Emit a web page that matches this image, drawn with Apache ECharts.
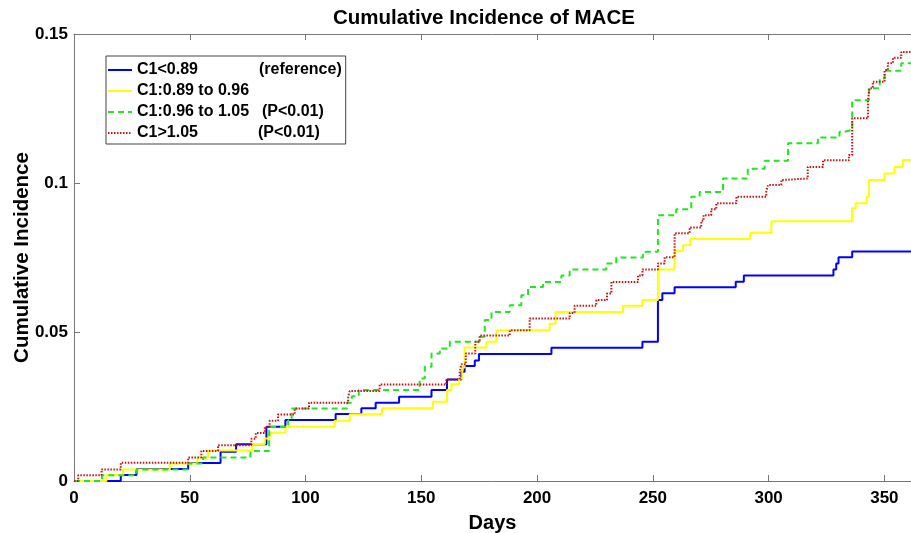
<!DOCTYPE html>
<html>
<head>
<meta charset="utf-8">
<script src="https://cdn.jsdelivr.net/npm/echarts@6/dist/echarts.min.js"></script>
<style>html,body{margin:0;padding:0;background:#fff}#chart{width:911px;height:533px}</style>
</head>
<body>
<div id="chart"></div>
<script>
// ---- data (days at which each step occurs, cumulative incidence after the step) ----
const seriesNames = ["C1<0.89", "C1:0.89 to 0.96", "C1:0.96 to 1.05", "C1>1.05"];
const legendNotes = ["(reference)", "", "(P<0.01)", "(P<0.01)"];
const xTicks = [0, 50, 100, 150, 200, 250, 300, 350];
const yTicks = [0, 0.05, 0.1, 0.15];

const blueDays = [0, 20.2, 27, 49.3, 63.3, 70, 83.1, 91.3, 113, 124.1, 130.3, 140.4, 154.4, 161.1, 167.3, 168.7, 173.1, 174.9, 206.2, 245.5, 252.2, 254.1, 259.4, 285.8, 289.3, 328, 329.2, 330.2, 336.1, 361.5];
const blueVals = [0, 0.002, 0.004, 0.006, 0.0098, 0.0123, 0.0182, 0.0205, 0.0225, 0.0244, 0.0263, 0.0283, 0.0305, 0.0341, 0.0367, 0.0386, 0.0404, 0.0426, 0.0447, 0.0467, 0.0607, 0.063, 0.065, 0.0669, 0.069, 0.071, 0.073, 0.0751, 0.077, 0.077];

const yellowDays = [0, 14, 21.2, 41.4, 53.3, 57.9, 77, 82.4, 84.5, 91.3, 112.6, 119.1, 133, 155, 161.1, 163, 166.3, 167.7, 168.7, 178.1, 182.4, 205.4, 208, 237.1, 245.5, 252.2, 259.4, 263, 266.2, 292.1, 301.2, 336, 337.6, 342.4, 343.3, 350.1, 354.4, 358, 361.5];
const yellowVals = [0, 0.002, 0.0039, 0.0059, 0.0079, 0.0102, 0.0124, 0.0143, 0.0162, 0.0182, 0.0202, 0.0224, 0.0244, 0.0266, 0.0305, 0.0325, 0.0344, 0.0381, 0.0448, 0.0467, 0.0506, 0.0528, 0.0567, 0.0588, 0.0607, 0.071, 0.0772, 0.0791, 0.0812, 0.0833, 0.0872, 0.0915, 0.0932, 0.0954, 0.101, 0.1032, 0.1054, 0.1077, 0.1077];

const greenDays = [0, 12.1, 27, 49.3, 55.7, 76.2, 84.3, 92.5, 94, 118, 120, 123, 149.3, 151.5, 154.4, 158, 162.3, 175.2, 177.4, 180.3, 188.2, 193.2, 196.1, 202.6, 210.5, 214.1, 229.9, 234.2, 245.7, 252.2, 260.1, 266.6, 270.2, 280.3, 291, 298.3, 308.4, 321.3, 330.6, 332.8, 336.1, 343.3, 348, 350.1, 357.3, 361.5];
const greenVals = [0, 0.0019, 0.0039, 0.0059, 0.0079, 0.0101, 0.0181, 0.0204, 0.0243, 0.0263, 0.0284, 0.0305, 0.0344, 0.0383, 0.0428, 0.0445, 0.0467, 0.0484, 0.054, 0.0567, 0.059, 0.0623, 0.0651, 0.0668, 0.069, 0.071, 0.073, 0.075, 0.0769, 0.0892, 0.0912, 0.0954, 0.097, 0.1015, 0.1048, 0.1075, 0.1133, 0.1153, 0.1172, 0.1178, 0.1278, 0.1318, 0.1351, 0.1377, 0.1402, 0.1402];

const redDays = [0, 1.8, 11.9, 20.2, 49.3, 55, 62.2, 76.6, 78.5, 82.4, 84.5, 88.1, 95.3, 101.5, 118.4, 119.1, 132, 160.8, 166.6, 167.3, 169.2, 173.3, 175.2, 188.2, 196.8, 214.1, 216.2, 225.6, 230.2, 232.1, 243.6, 245.5, 252.2, 255.1, 259.4, 265.9, 270.9, 271.9, 275.2, 277.4, 286.1, 299, 299.7, 305.5, 306.2, 316.9, 323.5, 334.7, 336.1, 342.9, 343.6, 345, 350.1, 351.5, 353.7, 357.3, 361.5];
const redVals = [0, 0.0019, 0.0039, 0.0061, 0.0079, 0.0101, 0.012, 0.0142, 0.0161, 0.0181, 0.0202, 0.0223, 0.0243, 0.0263, 0.0284, 0.0302, 0.0324, 0.0341, 0.0366, 0.0392, 0.0428, 0.0467, 0.0488, 0.0506, 0.0545, 0.0564, 0.0588, 0.0607, 0.0629, 0.0668, 0.069, 0.071, 0.073, 0.0751, 0.0831, 0.0851, 0.0873, 0.0892, 0.0912, 0.0932, 0.0954, 0.0972, 0.0993, 0.101, 0.1015, 0.1054, 0.1076, 0.1094, 0.1217, 0.1278, 0.1318, 0.134, 0.1379, 0.1402, 0.142, 0.144, 0.144];

// ---- build ----
const zip = (a, b) => a.map((d, i) => [d, b[i]]);
const FONT = "'Liberation Sans', Arial, sans-serif";
const noteWidths = [122, 122, 125, 121];
const rich = {};
noteWidths.forEach((w, i) => { rich['n' + i] = { width: w, fontWeight: 'bold', fontSize: 16, fontFamily: FONT, color: '#000' }; });
rich.s = { fontWeight: 'bold', fontSize: 16, fontFamily: FONT, color: '#000' };

const styles = [
  { color: '#0000ff', type: 'solid', width: 2 },
  { color: '#ffff00', type: 'solid', width: 2 },
  { color: '#22e622', type: [6, 4], width: 2 },
  { color: '#cc1111', type: [1.5, 1.5], width: 2 }
];
const datas = [zip(blueDays, blueVals), zip(yellowDays, yellowVals), zip(greenDays, greenVals), zip(redDays, redVals)];

const chart = echarts.init(document.getElementById('chart'), null, { renderer: 'canvas' });
chart.setOption({
  animation: false,
  backgroundColor: '#fff',
  title: {
    text: 'Cumulative Incidence of MACE',
    left: 328, top: 3,
    textStyle: { fontFamily: FONT, fontWeight: 'bold', fontSize: 20.5, color: '#000' }
  },
  legend: {
    orient: 'vertical',
    left: 106, top: 56,
    padding: [6, 4, 3, 1],
    itemWidth: 24, itemHeight: 14, itemGap: 5,
    backgroundColor: '#fff',
    borderColor: '#444', borderWidth: 1,
    itemStyle: { opacity: 0 },
    data: seriesNames,
    formatter: function (name) {
      const i = seriesNames.indexOf(name);
      return '{n' + i + '|' + name + '}{s|' + legendNotes[i] + '}';
    },
    textStyle: { rich: rich, lineHeight: 16, fontSize: 16, fontWeight: 'bold', fontFamily: FONT }
  },
  grid: { left: 74, top: 34, right: 0, bottom: 52, containLabel: false, outerBoundsMode: 'none' },
  xAxis: [{
    type: 'value', min: 0, max: 361.5, interval: 50,
    name: 'Days', nameLocation: 'middle', nameGap: 32,
    nameTextStyle: { fontFamily: FONT, fontWeight: 'bold', fontSize: 20, color: '#000' },
    axisLine: { show: true, lineStyle: { color: '#777', width: 1 } },
    axisTick: { show: true, inside: true, length: 6, lineStyle: { color: '#777' } },
    axisLabel: {
      show: true, margin: 9, showMaxLabel: false,
      fontFamily: FONT, fontWeight: 'bold', fontSize: 17, color: '#000',
      formatter: v => (xTicks.indexOf(v) >= 0 ? String(v) : '')
    },
    splitLine: { show: false }
  }, {
    type: 'value', min: 0, max: 361.5, interval: 50, position: 'top',
    axisLine: { show: true, lineStyle: { color: '#777', width: 1 } },
    axisTick: { show: true, inside: true, length: 6, lineStyle: { color: '#777' } },
    axisLabel: { show: false },
    splitLine: { show: false }
  }],
  yAxis: {
    type: 'value', min: 0, max: 0.15, interval: 0.05,
    name: 'Cumulative Incidence', nameLocation: 'middle', nameGap: 41, nameMoveOverlap: false,
    nameTextStyle: { fontFamily: FONT, fontWeight: 'bold', fontSize: 20.5, color: '#000' },
    axisLine: { show: true, lineStyle: { color: '#777', width: 1 } },
    axisTick: { show: true, inside: true, length: 6, lineStyle: { color: '#777' } },
    axisLabel: {
      margin: 6, fontFamily: FONT, fontWeight: 'bold', fontSize: 17, color: '#000',
      formatter: v => { const t = yTicks.find(y => Math.abs(y - v) < 1e-9); return t === undefined ? '' : String(t); }
    },
    splitLine: { show: false }
  },
  series: seriesNames.map((n, i) => ({
    name: n,
    type: 'line',
    step: 'end',
    xAxisIndex: 0,
    showSymbol: false,
    symbol: 'none',
    data: datas[i],
    color: styles[i].color,
    lineStyle: { color: styles[i].color, width: styles[i].width, type: styles[i].type },
    z: 2 + i
  }))
});
</script>
</body>
</html>
